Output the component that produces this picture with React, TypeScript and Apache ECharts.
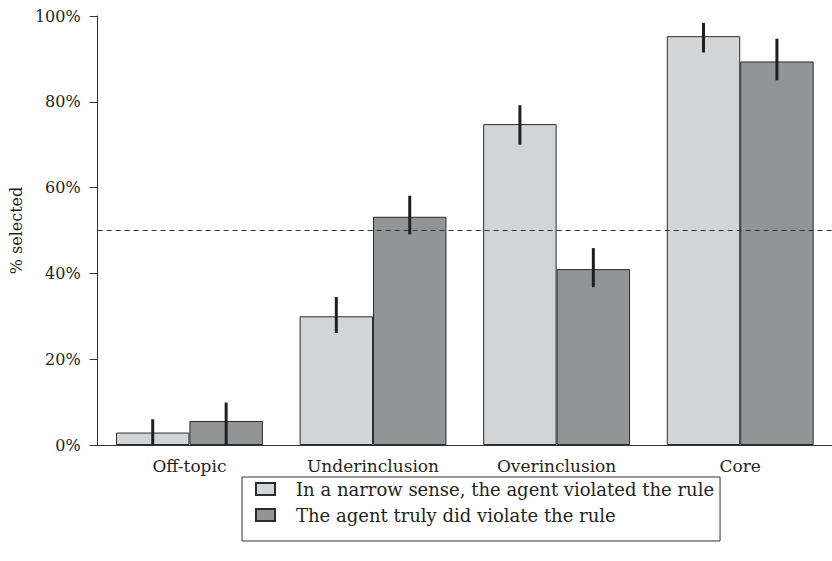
import React, { useEffect, useRef } from "react";
import * as echarts from "echarts";

const categories = ["Off-topic", "Underinclusion", "Overinclusion", "Core"];
const seriesNames = [
  "In a narrow sense, the agent violated the rule",
  "The agent truly did violate the rule",
];
const narrowValues = [2.9, 30.0, 74.8, 95.3];
const narrowLow = [0, 26.1, 70.0, 91.5];
const narrowHigh = [6.0, 34.5, 79.2, 98.4];
const trulyValues = [5.6, 53.2, 41.0, 89.4];
const trulyLow = [0, 49.1, 36.8, 85.0];
const trulyHigh = [9.9, 58.1, 45.9, 94.7];
const yTicks = [0, 20, 40, 60, 80, 100];
const refLine = 50;

const FONT = "DejaVu Serif";
const TEXT = "#231f20";

export default function App() {
  const ref = useRef<HTMLDivElement>(null);
  useEffect(() => {
    if (!ref.current) return;
    const chart = echarts.init(ref.current, undefined, { renderer: "svg" });

    const errData = (lo: number[], hi: number[]) =>
      categories.map((_, i) => [i, lo[i], hi[i]]);

    const errSeries = (name: string, lo: number[], hi: number[], side: number) => ({
      type: "custom",
      name: name + " err",
      z: 5,
      silent: true,
      data: errData(lo, hi),
      renderItem: (params: any, api: any) => {
        const x = api.value(0);
        const band = api.size([1, 0])[0];
        const p1 = api.coord([x, api.value(1)]);
        const p2 = api.coord([x, api.value(2)]);
        const dx = side * band * 0.2;
        return {
          type: "line",
          shape: { x1: p1[0] + dx, y1: p1[1], x2: p2[0] + dx, y2: p2[1] },
          style: { stroke: "#1f1f1f", lineWidth: 3 },
        };
      },
    });

    chart.setOption({
      animation: false,
      backgroundColor: "#ffffff",
      textStyle: { fontFamily: FONT, color: TEXT },
      grid: { left: 94, top: 16, width: 741, height: 429, containLabel: false },
      legend: {
        orient: "vertical",
        left: 242,
        top: 477,
        data: seriesNames,
        itemWidth: 19,
        itemHeight: 12,
        itemGap: 6,
        icon: "rect",
        borderColor: "#333",
        borderWidth: 1,
        padding: [2, 6, 16, 13],
        selectedMode: false,
        textStyle: { fontFamily: FONT, fontSize: 18, color: TEXT, lineHeight: 20, padding: [0, 0, 0, 16] },
      },
      xAxis: {
        type: "category",
        data: categories,
        axisLine: { lineStyle: { color: "#333", width: 1 } },
        axisTick: { alignWithLabel: true, length: 7, lineStyle: { color: "#333" } },
        axisLabel: { fontFamily: FONT, fontSize: 17, color: TEXT, margin: 12 },
      },
      yAxis: {
        type: "value",
        min: 0,
        max: 100,
        interval: 20,
        name: "% selected",
        nameLocation: "middle",
        nameGap: 72,
        nameTextStyle: { fontFamily: FONT, fontSize: 16, color: TEXT },
        axisLine: { show: true, lineStyle: { color: "#333", width: 1 } },
        axisTick: { show: true, length: 8, lineStyle: { color: "#333" } },
        splitLine: { show: false },
        axisLabel: {
          fontFamily: FONT,
          fontSize: 16,
          color: TEXT,
          margin: 17,
          formatter: (v: number) => (yTicks.includes(v) ? v + "%" : ""),
        },
      },
      series: [
        {
          type: "bar",
          name: seriesNames[0],
          data: narrowValues,
          barGap: "0%",
          barCategoryGap: "20%",
          itemStyle: { color: "#d3d4d6", borderColor: "#2b2b2b", borderWidth: 1 },
          markLine: {
            silent: true,
            symbol: "none",
            label: { show: false },
            lineStyle: { color: "#333", type: [5, 4], width: 1 },
            data: [{ yAxis: refLine }],
          },
          z: 2,
        },
        {
          type: "bar",
          name: seriesNames[1],
          data: trulyValues,
          barGap: "0%",
          barCategoryGap: "20%",
          itemStyle: { color: "#939496", borderColor: "#2b2b2b", borderWidth: 1 },
          z: 2,
        },
        errSeries(seriesNames[0], narrowLow, narrowHigh, -1),
        errSeries(seriesNames[1], trulyLow, trulyHigh, 1),
      ],
    });
    return () => chart.dispose();
  }, []);
  return (
    <div
      ref={ref}
      style={{ position: "fixed", left: 0, top: 0, width: 832, height: 561 }}
    />
  );
}
